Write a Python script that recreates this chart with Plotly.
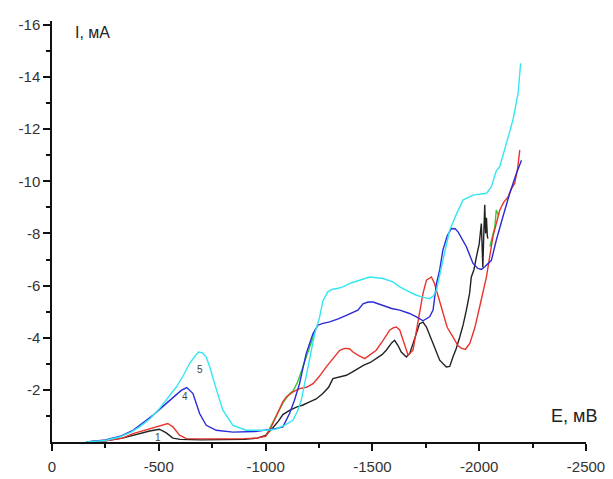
import plotly.graph_objects as go

# ---- data (E in mV, I in mA) ----
e_black = [-160, -250, -330, -400, -457, -503, -535, -566, -600, -700, -800, -900, -960, -1000, -1034,
           -1060, -1081, -1110, -1144, -1175, -1206, -1237, -1268, -1295, -1315, -1345, -1378, -1405, -1432,
           -1460, -1490, -1518, -1545, -1565, -1590, -1604, -1620, -1635, -1659, -1675, -1690, -1705, -1721,
           -1737, -1753, -1784, -1815, -1846, -1862, -1877, -1893, -1909, -1925, -1940, -1955, -1963, -1975,
           -1987, -2000, -2010, -2017, -2022, -2026, -2030, -2034, -2038, -2041]
i_black = [0, -0.05, -0.15, -0.3, -0.42, -0.49, -0.35, -0.15, -0.1, -0.08, -0.08, -0.1, -0.15, -0.25, -0.55,
           -0.8, -1.05, -1.2, -1.34, -1.42, -1.54, -1.65, -1.86, -2.1, -2.43, -2.5, -2.56, -2.68, -2.82,
           -2.95, -3.05, -3.2, -3.35, -3.52, -3.8, -3.9, -3.7, -3.45, -3.26, -3.4, -3.78, -4.2, -4.54,
           -4.6, -4.41, -3.78, -3.14, -2.88, -2.9, -3.26, -3.6, -4.03, -4.5, -5.06, -5.7, -6.33, -6.6,
           -7.1, -7.6, -8.38, -6.7, -8.1, -9.1, -8.0, -8.6, -7.9, -7.8]

e_red = [-160, -250, -330, -379, -420, -457, -500, -519, -542, -566, -597, -629, -700, -800, -900, -960,
         -1000, -1019, -1045, -1066, -1081, -1097, -1112, -1128, -1159, -1191, -1222, -1250, -1284, -1315,
         -1347, -1370, -1393, -1409, -1432, -1464, -1490, -1518, -1550, -1581, -1597, -1612, -1628, -1643,
         -1659, -1667, -1690, -1705, -1721, -1737, -1753, -1776, -1790, -1800, -1830, -1850, -1877, -1900,
         -1916, -1935, -1956, -1980, -2002, -2034, -2064, -2096, -2115, -2135, -2150, -2166, -2180, -2190]
i_red = [0, -0.05, -0.15, -0.32, -0.42, -0.51, -0.62, -0.68, -0.71, -0.58, -0.26, -0.13, -0.12, -0.12, -0.13, -0.15,
         -0.22, -0.45, -0.9, -1.3, -1.55, -1.73, -1.82, -1.92, -2.05, -2.1, -2.24, -2.5, -2.88, -3.2,
         -3.52, -3.59, -3.58, -3.45, -3.33, -3.2, -3.35, -3.52, -3.9, -4.29, -4.38, -4.41, -4.3, -3.9,
         -3.5, -3.33, -3.52, -4.2, -4.93, -5.7, -6.21, -6.33, -6.1, -5.8, -4.9, -4.4, -4.03, -3.7,
         -3.6, -3.55, -3.78, -4.4, -5.18, -6.33, -7.87, -8.89, -9.2, -9.4, -9.7, -9.92, -10.5, -11.2]

e_green = [-1000, -1045, -1081, -1112, -1128, -1150, -1175, -1206, -1230, None,
           -2050, -2064, -2073, -2080, -2090]
i_green = [-0.22, -0.9, -1.5, -1.85, -1.95, -2.3, -2.9, -3.6, -4.2, None,
           -7.5, -8.0, -8.25, -8.9, -8.7]

e_blue = [-160, -250, -320, -379, -420, -472, -510, -550, -580, -605, -631, -660, -691, -722, -769, -847,
          -950, -1003, -1050, -1081, -1112, -1135, -1159, -1190, -1222, -1245, -1268, -1300, -1340, -1378,
          -1432, -1456, -1480, -1503, -1549, -1590, -1628, -1674, -1706, -1737, -1768, -1784, -1800, -1815,
          -1830, -1850, -1870, -1887, -1901, -1920, -1940, -1971, -1994, -2010, -2026, -2057, -2080, -2111,
          -2143, -2174, -2198]
i_blue = [0, -0.08, -0.22, -0.45, -0.7, -1.02, -1.3, -1.6, -1.82, -1.98, -2.09, -1.86, -1.09, -0.64, -0.45, -0.38,
          -0.4, -0.45, -0.52, -0.58, -1.09, -1.6, -2.24, -3.39, -4.16, -4.48, -4.55, -4.61, -4.72, -4.86,
          -5.06, -5.3, -5.37, -5.37, -5.25, -5.12, -5.06, -4.93, -4.8, -4.65, -4.8, -5.06, -6.08, -6.6,
          -7.36, -7.9, -8.19, -8.18, -8.06, -7.8, -7.49, -6.85, -6.66, -6.62, -6.72, -6.97, -7.74, -8.64,
          -9.54, -10.3, -10.81]

e_cyan = [-160, -250, -316, -370, -410, -460, -503, -545, -582, -615, -644, -670, -686, -705, -722, -740,
          -761, -800, -847, -909, -1003, -1050, -1090, -1128, -1150, -1167, -1198, -1230, -1253, -1268,
          -1290, -1310, -1340, -1362, -1400, -1440, -1487, -1520, -1549, -1596, -1628, -1659, -1706, -1740,
          -1768, -1785, -1800, -1830, -1862, -1895, -1924, -1971, -2000, -2034, -2057, -2080, -2096, -2127,
          -2158, -2182, -2194]
i_cyan = [0, -0.06, -0.19, -0.38, -0.58, -0.9, -1.28, -1.7, -2.11, -2.55, -3.01, -3.3, -3.45, -3.42, -3.26, -2.85,
          -2.24, -1.22, -0.64, -0.45, -0.45, -0.5, -0.65, -0.83, -1.2, -1.6, -2.88, -4.16, -4.8, -5.4,
          -5.75, -5.85, -5.9, -5.95, -6.1, -6.21, -6.33, -6.3, -6.27, -6.14, -5.95, -5.82, -5.63, -5.55,
          -5.5, -5.6, -5.82, -6.97, -8.13, -8.77, -9.28, -9.47, -9.5, -9.54, -9.79, -10.4, -10.56, -11.46,
          -12.35, -13.37, -14.53]

x_tickvals = [0, -500, -1000, -1500, -2000, -2500]
x_ticktext = ["0", "-500", "-1000", "-1500", "-2000", "-2500"]
y_tickvals = [-2, -4, -6, -8, -10, -12, -14, -16]
y_ticktext = ["-2", "-4", "-6", "-8", "-10", "-12", "-14", "-16"]
x_minor = [-250, -750, -1250, -1750, -2250]
y_minor = [-1, -3, -5, -7, -9, -11, -13, -15]

curve_labels = ["5", "4", "1"]
label_e = [-691, -621, -495]
label_i = [-2.8, -1.75, -0.17]

fig = go.Figure()
lw = 1.4
fig.add_trace(go.Scatter(x=e_green, y=i_green, mode="lines", line=dict(color="#33cc33", width=lw), connectgaps=False))
fig.add_trace(go.Scatter(x=e_black, y=i_black, mode="lines", line=dict(color="#222222", width=lw)))
fig.add_trace(go.Scatter(x=e_red, y=i_red, mode="lines", line=dict(color="#e8332c", width=lw)))
fig.add_trace(go.Scatter(x=e_blue, y=i_blue, mode="lines", line=dict(color="#2a2ad6", width=lw)))
fig.add_trace(go.Scatter(x=e_cyan, y=i_cyan, mode="lines", line=dict(color="#33e6f2", width=lw)))

for t, xe, yi in zip(curve_labels, label_e, label_i):
    fig.add_annotation(x=xe, y=yi, text=t, showarrow=False,
                       font=dict(family="Liberation Sans, Arial", size=10, color="#444"))

fig.add_annotation(x=0, y=-15.69, xref="x", yref="y", text="I, мА", showarrow=False,
                   xanchor="left", xshift=21,
                   font=dict(family="Liberation Sans, Arial", size=16, color="#222"))
fig.add_annotation(x=-2500, y=-0.99, xref="x", yref="y", text="E, мВ", showarrow=False,
                   xanchor="right", xshift=13,
                   font=dict(family="Liberation Sans, Arial", size=18, color="#222"))

axis_common = dict(showline=True, linecolor="#111", linewidth=1.5, showgrid=False, zeroline=False,
                   automargin=False,
                   ticks="outside", ticklen=7, tickwidth=1.5, tickcolor="#111",
                   tickfont=dict(family="Liberation Sans, Arial", size=15, color="#333"))

fig.update_xaxes(range=[0, -2500], tickmode="array", tickvals=x_tickvals, ticktext=x_ticktext,
                 ticklabelstandoff=3,
                 minor=dict(tickmode="array", tickvals=x_minor, ticks="outside", ticklen=4,
                            tickwidth=1.5, tickcolor="#111"),
                 **axis_common)
fig.update_yaxes(range=[0, -16.15], tickmode="array", tickvals=y_tickvals, ticktext=y_ticktext,
                 minor=dict(tickmode="array", tickvals=y_minor, ticks="outside", ticklen=4,
                            tickwidth=1.5, tickcolor="#111"),
                 **axis_common)

# the page places the figure 8px from the top-left corner, so the figure is 8px smaller
fig.update_layout(width=605, height=471, showlegend=False,
                  margin=dict(l=44, r=27, t=13, b=37, autoexpand=False),
                  paper_bgcolor="white", plot_bgcolor="white")

fig.write_html("out.html")
